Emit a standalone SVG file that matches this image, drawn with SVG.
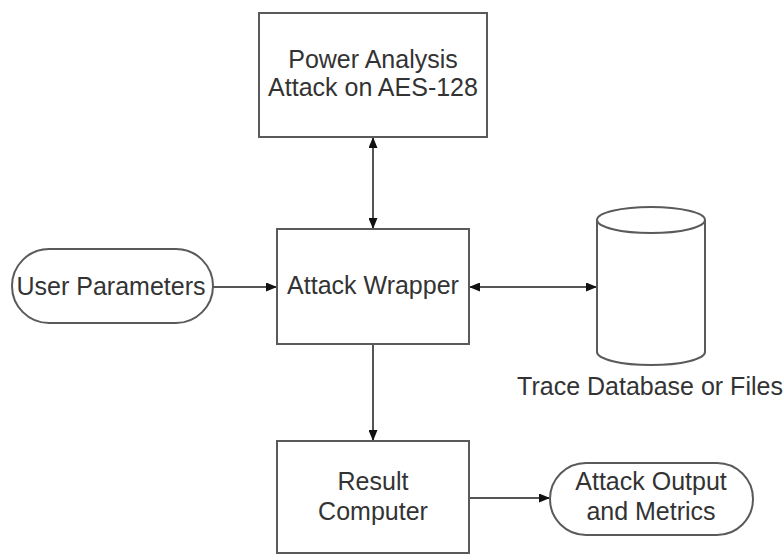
<svg xmlns="http://www.w3.org/2000/svg" width="783" height="555" viewBox="0 0 783 555">
  <style>
    .shape { fill: #ffffff; stroke: #5a5a5a; stroke-width: 2; }
    .label { font-family: "Liberation Sans", Arial, sans-serif; font-size: 25px; fill: #333333; text-anchor: middle; }
    .wire { fill: none; stroke: #555555; stroke-width: 2; }
  </style>
  <defs>
    <marker id="arrowEnd" markerWidth="11" markerHeight="9" refX="10" refY="4.5" orient="auto" markerUnits="userSpaceOnUse">
      <path d="M0,0 L11,4.5 L0,9 Z" fill="#111111"/>
    </marker>
    <marker id="arrowStart" markerWidth="11" markerHeight="9" refX="1" refY="4.5" orient="auto" markerUnits="userSpaceOnUse">
      <path d="M11,0 L0,4.5 L11,9 Z" fill="#111111"/>
    </marker>
  </defs>
  <rect width="783" height="555" fill="#ffffff"/>

  <!-- connectors -->
  <g id="connectors">
    <line class="wire" x1="373" y1="138" x2="373" y2="228" marker-start="url(#arrowStart)" marker-end="url(#arrowEnd)"/>
    <line class="wire" x1="213" y1="287" x2="276" y2="287" marker-end="url(#arrowEnd)"/>
    <line class="wire" x1="470" y1="287" x2="596" y2="287" marker-start="url(#arrowStart)" marker-end="url(#arrowEnd)"/>
    <line class="wire" x1="373" y1="344" x2="373" y2="440" marker-end="url(#arrowEnd)"/>
    <line class="wire" x1="469" y1="498" x2="549" y2="498" marker-end="url(#arrowEnd)"/>
  </g>

  <!-- nodes -->
  <g id="power-analysis">
    <rect class="shape" x="259" y="13" width="228" height="124"/>
    <text class="label" x="373" y="68">Power Analysis</text>
    <text class="label" x="373" y="96">Attack on AES-128</text>
  </g>

  <g id="user-parameters">
    <rect class="shape" x="12" y="249" width="201" height="74" rx="37" ry="37"/>
    <text class="label" x="111" y="295">User Parameters</text>
  </g>

  <g id="attack-wrapper">
    <rect class="shape" x="277" y="229" width="192" height="115"/>
    <text class="label" x="373" y="294">Attack Wrapper</text>
  </g>

  <g id="trace-database">
    <path class="shape" d="M597,220 L597,352 A54,13 0 0 0 705,352 L705,220"/>
    <ellipse class="shape" cx="651" cy="220" rx="54" ry="13"/>
    <text class="label" x="650" y="395">Trace Database or Files</text>
  </g>

  <g id="result-computer">
    <rect class="shape" x="277" y="441" width="192" height="112"/>
    <text class="label" x="373" y="490">Result</text>
    <text class="label" x="373" y="520">Computer</text>
  </g>

  <g id="attack-output">
    <rect class="shape" x="550" y="463" width="203" height="72" rx="36" ry="36"/>
    <text class="label" x="651" y="490">Attack Output</text>
    <text class="label" x="651" y="520">and Metrics</text>
  </g>
</svg>
